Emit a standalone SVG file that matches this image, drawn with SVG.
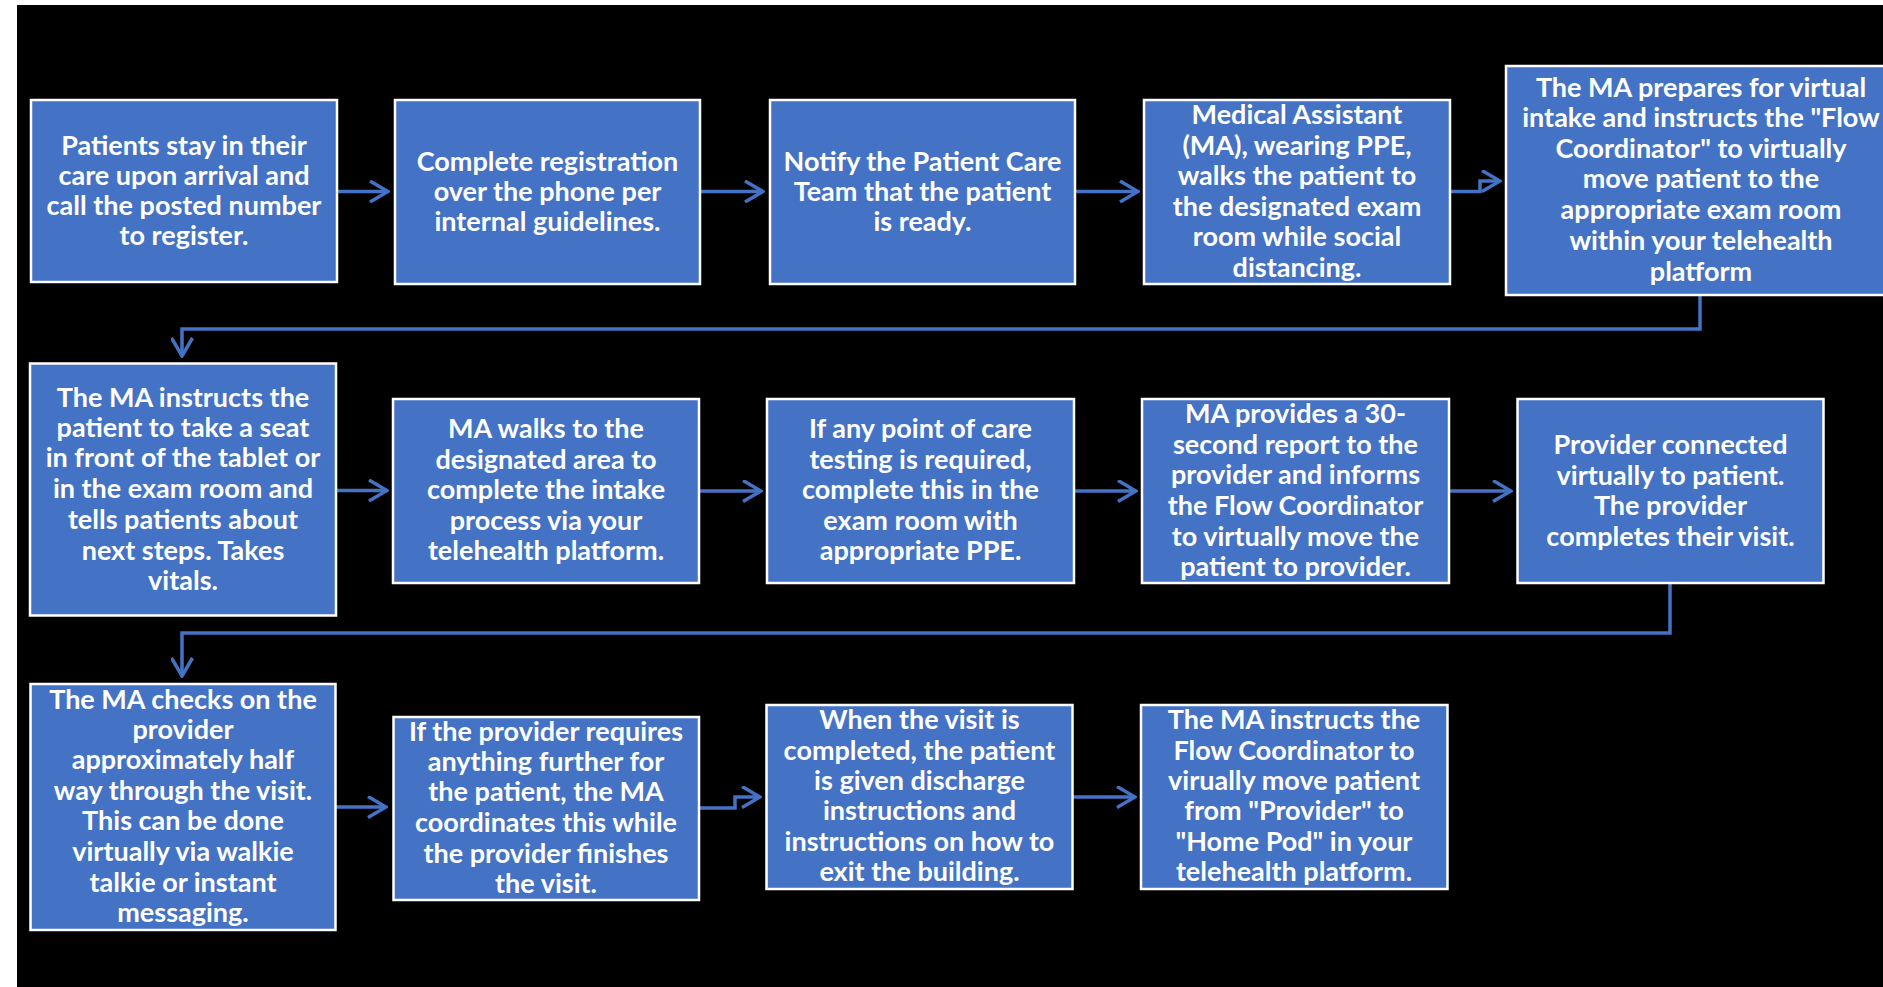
<svg xmlns="http://www.w3.org/2000/svg" width="1883" height="987" viewBox="0 0 1883 987">
<defs>
<style>
.box{fill:#4472C4;stroke:#FFFFFF;stroke-width:2.5}
.t{font-family:Lato,"Liberation Sans",sans-serif;font-weight:700;font-size:27px;fill:#FFFFFF;text-anchor:middle}
.c{fill:none;stroke:#4472C4;stroke-width:3.5}
</style>
<marker id="ah" viewBox="0 0 21 23" markerWidth="21" markerHeight="23" refX="19.5" refY="11.5" orient="auto" markerUnits="userSpaceOnUse">
<path d="M1.5,1 L19.5,11.5 L1.5,22" fill="none" stroke="#4472C4" stroke-width="3.5"/>
</marker>
</defs>
<rect x="0" y="0" width="1883" height="987" fill="#FFFFFF"/>
<rect x="17" y="5" width="1866" height="982" fill="#000000"/>

<g id="connectors">
<path class="c" d="M337,191.5 H388" marker-end="url(#ah)"/>
<path class="c" d="M700,191.5 H763" marker-end="url(#ah)"/>
<path class="c" d="M1075,191.5 H1138" marker-end="url(#ah)"/>
<path class="c" d="M1450,191.5 H1480 V181 H1500" marker-end="url(#ah)"/>
<path class="c" d="M1700,295 V329 H182 V356" marker-end="url(#ah)"/>
<path class="c" d="M336,490.5 H387" marker-end="url(#ah)"/>
<path class="c" d="M699,491 H761" marker-end="url(#ah)"/>
<path class="c" d="M1074,491 H1136" marker-end="url(#ah)"/>
<path class="c" d="M1449,491 H1511" marker-end="url(#ah)"/>
<path class="c" d="M1670,583 V633 H182 V676" marker-end="url(#ah)"/>
<path class="c" d="M336,807 H386" marker-end="url(#ah)"/>
<path class="c" d="M699,808 H735 V797 H760" marker-end="url(#ah)"/>
<path class="c" d="M1072,797 H1135" marker-end="url(#ah)"/>
</g>

<g id="n1">
<rect class="box" x="31" y="100" width="306" height="182"/>
<text class="t" x="184"><tspan x="184" y="154.5">Patients stay in their</tspan><tspan x="184" y="184.5">care upon arrival and</tspan><tspan x="184" y="214.5">call the posted number</tspan><tspan x="184" y="245">to register.</tspan></text>
</g>
<g id="n2">
<rect class="box" x="395" y="100" width="305" height="184"/>
<text class="t"><tspan x="547.5" y="170.5">Complete registration</tspan><tspan x="547.5" y="200.5">over the phone per</tspan><tspan x="547.5" y="230.5">internal guidelines.</tspan></text>
</g>
<g id="n3">
<rect class="box" x="770" y="100" width="305" height="184"/>
<text class="t"><tspan x="922.5" y="170.5">Notify the Patient Care</tspan><tspan x="922.5" y="200.5">Team that the patient</tspan><tspan x="922.5" y="230.5">is ready.</tspan></text>
</g>
<g id="n4">
<rect class="box" x="1144" y="100" width="306" height="184"/>
<text class="t"><tspan x="1297" y="124">Medical Assistant</tspan><tspan x="1297" y="154.5">(MA), wearing PPE,</tspan><tspan x="1297" y="185">walks the patient to</tspan><tspan x="1297" y="215.5">the designated exam</tspan><tspan x="1297" y="246">room while  social</tspan><tspan x="1297" y="276.5">distancing.</tspan></text>
</g>
<g id="n5">
<rect class="box" x="1506" y="66" width="392" height="229"/>
<text class="t"><tspan x="1701" y="96.5">The MA prepares for virtual</tspan><tspan x="1701" y="127">intake and instructs the "Flow</tspan><tspan x="1701" y="157.5">Coordinator" to virtually</tspan><tspan x="1701" y="188">move patient to the</tspan><tspan x="1701" y="219">appropriate exam room</tspan><tspan x="1701" y="250">within your telehealth</tspan><tspan x="1701" y="280.5">platform</tspan></text>
</g>
<g id="n6">
<rect class="box" x="30" y="363.5" width="306" height="252"/>
<text class="t"><tspan x="183" y="407">The MA instructs the</tspan><tspan x="183" y="437">patient to take a seat</tspan><tspan x="183" y="467">in front of the tablet or</tspan><tspan x="183" y="498">in the exam room and</tspan><tspan x="183" y="528.5">tells  patients about</tspan><tspan x="183" y="559.5">next steps. Takes</tspan><tspan x="183" y="590">vitals.</tspan></text>
</g>
<g id="n7">
<rect class="box" x="393" y="399" width="306" height="184"/>
<text class="t"><tspan x="546" y="438">MA walks to the</tspan><tspan x="546" y="468.5">designated area to</tspan><tspan x="546" y="499">complete the intake</tspan><tspan x="546" y="529.5">process via your</tspan><tspan x="546" y="560">telehealth platform.</tspan></text>
</g>
<g id="n8">
<rect class="box" x="767" y="399" width="307" height="184"/>
<text class="t"><tspan x="920.5" y="438">If any point of care</tspan><tspan x="920.5" y="468.5">testing is required,</tspan><tspan x="920.5" y="499">complete this in  the</tspan><tspan x="920.5" y="529.5">exam room with</tspan><tspan x="920.5" y="560">appropriate PPE.</tspan></text>
</g>
<g id="n9">
<rect class="box" x="1142" y="399" width="307" height="184"/>
<text class="t"><tspan x="1295.5" y="423">MA provides a 30-</tspan><tspan x="1295.5" y="453.5">second report to the</tspan><tspan x="1295.5" y="484">provider and informs</tspan><tspan x="1295.5" y="514.5">the Flow Coordinator</tspan><tspan x="1295.5" y="545.5">to virtually move the</tspan><tspan x="1295.5" y="576">patient to provider.</tspan></text>
</g>
<g id="n10">
<rect class="box" x="1517.5" y="399" width="306" height="184"/>
<text class="t"><tspan x="1670.5" y="454">Provider connected</tspan><tspan x="1670.5" y="484.5">virtually to patient.</tspan><tspan x="1670.5" y="515">The provider</tspan><tspan x="1670.5" y="545.5">completes their visit.</tspan></text>
</g>
<g id="n11">
<rect class="box" x="30.5" y="684" width="305" height="246"/>
<text class="t"><tspan x="183" y="708.5">The MA checks on the</tspan><tspan x="183" y="738.5">provider</tspan><tspan x="183" y="769">approximately half</tspan><tspan x="183" y="799.5">way through the visit.</tspan><tspan x="183" y="830">This can be done</tspan><tspan x="183" y="861">virtually via walkie</tspan><tspan x="183" y="891.5">talkie or instant</tspan><tspan x="183" y="922">messaging.</tspan></text>
</g>
<g id="n12">
<rect class="box" x="393.5" y="717" width="305.5" height="183"/>
<text class="t"><tspan x="546" y="740.5">If the provider requires</tspan><tspan x="546" y="771">anything further for</tspan><tspan x="546" y="801">the patient, the MA</tspan><tspan x="546" y="832">coordinates this while</tspan><tspan x="546" y="862.5">the provider finishes</tspan><tspan x="546" y="893">the visit.</tspan></text>
</g>
<g id="n13">
<rect class="box" x="766.5" y="705" width="306" height="184"/>
<text class="t"><tspan x="919.5" y="729">When the visit is</tspan><tspan x="919.5" y="759.5">completed, the patient</tspan><tspan x="919.5" y="789.5">is given discharge</tspan><tspan x="919.5" y="820">instructions and</tspan><tspan x="919.5" y="850.5">instructions on how to</tspan><tspan x="919.5" y="881">exit  the building.</tspan></text>
</g>
<g id="n14">
<rect class="box" x="1141" y="705" width="306.5" height="184"/>
<text class="t"><tspan x="1294" y="729">The MA instructs the</tspan><tspan x="1294" y="759.5">Flow Coordinator to</tspan><tspan x="1294" y="789.5">virually move patient</tspan><tspan x="1294" y="820">from "Provider" to</tspan><tspan x="1294" y="850.5">"Home Pod" in your</tspan><tspan x="1294" y="881">telehealth platform.</tspan></text>
</g>
</svg>
